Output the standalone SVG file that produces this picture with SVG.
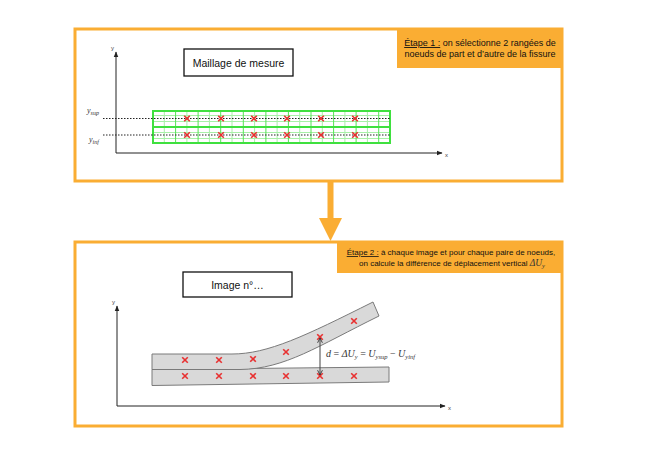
<svg xmlns="http://www.w3.org/2000/svg" width="662" height="466" viewBox="0 0 662 466">
<style>
.frame{fill:none;stroke:#FAAD33;stroke-width:3}
.lbl{fill:#FAAD33}
.t{font-family:"Liberation Sans",Arial,sans-serif;fill:#111}
.box{fill:#fff;stroke:#111;stroke-width:1.3}
.axis{stroke:#222;stroke-width:1;fill:none}
.ax{font-family:"Liberation Sans",Arial,sans-serif;font-size:6px;fill:#444}
.mth{font-family:"Liberation Serif","Times New Roman",serif;font-style:italic;fill:#333}
.g1{stroke:#3FE03F;stroke-width:2;fill:none}
.g2{stroke:#55E455;stroke-width:1}
.g3{stroke:#A8F0A8;stroke-width:1}
.dot{stroke:#222;stroke-width:1;stroke-dasharray:1.5 1.5}
.x{stroke:#E83030;stroke-width:1.6}
.strip{fill:#D9D9D9;stroke:#7a7a7a;stroke-width:1}
</style>
<defs>
<marker id="ah" viewBox="0 0 10 10" refX="9" refY="5" markerWidth="6" markerHeight="6" orient="auto-start-reverse" markerUnits="userSpaceOnUse">
<path d="M0,1 L10,5 L0,9 Z" fill="#222"/>
</marker>
<marker id="dh" viewBox="0 0 10 10" refX="9" refY="5" markerWidth="6" markerHeight="6" orient="auto-start-reverse" markerUnits="userSpaceOnUse">
<path d="M1,1 L9,5 L1,9" fill="none" stroke="#333" stroke-width="1.5"/>
</marker>
<g id="cross"><line class="x" x1="-2.8" y1="-2.8" x2="2.8" y2="2.8"/><line class="x" x1="-2.8" y1="2.8" x2="2.8" y2="-2.8"/></g>
</defs>
<rect width="662" height="466" fill="#fff"/>

<g id="panel1">
<rect class="frame" x="75" y="29" width="487" height="152"/>
<g id="label1">
<rect class="lbl" x="397" y="29" width="165" height="39"/>
<text class="t" x="480" y="46" font-size="9" text-anchor="middle"><tspan text-decoration="underline">Étape 1 :</tspan> on sélectionne 2 rangées de</text>
<text class="t" x="480" y="57" font-size="9" text-anchor="middle">noeuds de part et d’autre de la fissure</text>
</g>
<g id="title1">
<rect class="box" x="184" y="49" width="109" height="27"/>
<text class="t" x="238.5" y="66.5" font-size="10.5" text-anchor="middle">Maillage de mesure</text>
</g>
<g id="axes1">
<line class="axis" x1="116" y1="153" x2="116" y2="52" marker-end="url(#ah)"/>
<line class="axis" x1="116" y1="153" x2="442" y2="153" marker-end="url(#ah)"/>
<text class="ax" x="111" y="50">y</text>
<text class="ax" x="445" y="157">x</text>
</g>
<g id="mesh">
<line class="g3" x1="153" y1="115.5" x2="390" y2="115.5"/>
<line class="g3" x1="153" y1="121.5" x2="390" y2="121.5"/>
<line class="g3" x1="153" y1="132.5" x2="390" y2="132.5"/>
<line class="g3" x1="153" y1="138.5" x2="390" y2="138.5"/>
<line class="g3" x1="164.3" y1="111" x2="164.3" y2="143"/>
<line class="g2" x1="175.6" y1="111" x2="175.6" y2="143"/>
<line class="g3" x1="186.9" y1="111" x2="186.9" y2="143"/>
<line class="g2" x1="198.1" y1="111" x2="198.1" y2="143"/>
<line class="g3" x1="209.4" y1="111" x2="209.4" y2="143"/>
<line class="g2" x1="220.7" y1="111" x2="220.7" y2="143"/>
<line class="g3" x1="232" y1="111" x2="232" y2="143"/>
<line class="g2" x1="243.3" y1="111" x2="243.3" y2="143"/>
<line class="g3" x1="254.6" y1="111" x2="254.6" y2="143"/>
<line class="g2" x1="265.9" y1="111" x2="265.9" y2="143"/>
<line class="g3" x1="277.1" y1="111" x2="277.1" y2="143"/>
<line class="g2" x1="288.4" y1="111" x2="288.4" y2="143"/>
<line class="g3" x1="299.7" y1="111" x2="299.7" y2="143"/>
<line class="g2" x1="311" y1="111" x2="311" y2="143"/>
<line class="g3" x1="322.3" y1="111" x2="322.3" y2="143"/>
<line class="g2" x1="333.6" y1="111" x2="333.6" y2="143"/>
<line class="g3" x1="344.9" y1="111" x2="344.9" y2="143"/>
<line class="g2" x1="356.1" y1="111" x2="356.1" y2="143"/>
<line class="g3" x1="367.4" y1="111" x2="367.4" y2="143"/>
<line class="g2" x1="378.7" y1="111" x2="378.7" y2="143"/>
<rect class="g1" x="153" y="111" width="237" height="32"/>
<line class="g1" x1="153" y1="127" x2="390" y2="127"/>
</g>
<g id="rows">
<line class="dot" x1="103" y1="118.5" x2="390" y2="118.5"/>
<line class="dot" x1="103" y1="135" x2="390" y2="135"/>
<text class="mth" x="87" y="113" font-size="8">y<tspan font-size="6" dy="1.5">sup</tspan></text>
<text class="mth" x="89" y="142" font-size="8">y<tspan font-size="6" dy="1.5">inf</tspan></text>
</g>
<g id="nodes1">
<use href="#cross" x="187" y="118.5"/><use href="#cross" x="221" y="118.5"/><use href="#cross" x="254" y="118.5"/><use href="#cross" x="287" y="118.5"/><use href="#cross" x="321" y="118.5"/><use href="#cross" x="355" y="118.5"/>
<use href="#cross" x="187" y="135"/><use href="#cross" x="221" y="135"/><use href="#cross" x="254" y="135"/><use href="#cross" x="287" y="135"/><use href="#cross" x="321" y="135"/><use href="#cross" x="355" y="135"/>
</g>
</g>

<g id="connectors">
<rect x="327.5" y="180" width="6" height="39" fill="#FAAD33"/>
<polygon points="319,218 342,218 330.5,241" fill="#FAAD33"/>
</g>

<g id="panel2">
<rect class="frame" x="75" y="242" width="487" height="184"/>
<g id="label2">
<rect class="lbl" x="337" y="242" width="225" height="31"/>
<text class="t" x="451" y="255" font-size="8" text-anchor="middle"><tspan text-decoration="underline">Étape 2 :</tspan> à chaque image et pour chaque paire de noeuds,</text>
<text class="t" x="452" y="266" font-size="8" text-anchor="middle">on calcule la différence de déplacement vertical <tspan class="mth" font-size="9.5">ΔU</tspan><tspan class="mth" font-size="6.5" dy="1.5">y</tspan></text>
</g>
<g id="title2">
<rect class="box" x="183" y="272" width="109" height="25"/>
<text class="t" x="237.5" y="288.5" font-size="10.5" text-anchor="middle">Image n°…</text>
</g>
<g id="axes2">
<line class="axis" x1="117" y1="406" x2="117" y2="306" marker-end="url(#ah)"/>
<line class="axis" x1="117" y1="406" x2="445" y2="406" marker-end="url(#ah)"/>
<text class="ax" x="112" y="304">y</text>
<text class="ax" x="448" y="410">x</text>
</g>
<g id="specimen">
<polygon class="strip" points="152,369.5 389,367 389,382 152,385.5"/>
<path class="strip" d="M152,354 L232,354 C268,354 305,336 373,302 L379,316 C318,346 285,369 240,369.5 L152,369.5 Z"/>
</g>
<g id="nodes2">
<use href="#cross" x="185" y="360"/><use href="#cross" x="219" y="360"/><use href="#cross" x="253" y="359"/><use href="#cross" x="286" y="352"/><use href="#cross" x="320" y="337"/><use href="#cross" x="354" y="321"/>
<use href="#cross" x="185" y="376"/><use href="#cross" x="219" y="376"/><use href="#cross" x="253" y="376"/><use href="#cross" x="286" y="376"/><use href="#cross" x="320" y="376"/><use href="#cross" x="354" y="376"/>
</g>
<g id="measure">
<line x1="320" y1="338" x2="320" y2="375" stroke="#444" stroke-width="1" marker-start="url(#dh)" marker-end="url(#dh)"/>
<text class="mth" x="326" y="357" font-size="10">d <tspan font-style="normal">=</tspan> ΔU<tspan font-size="6.5" dy="2">y</tspan><tspan dy="-2"> <tspan font-style="normal">=</tspan> U</tspan><tspan font-size="6.5" dy="2">ysup</tspan><tspan dy="-2"> <tspan font-style="normal">−</tspan> U</tspan><tspan font-size="6.5" dy="2">yinf</tspan></text>
</g>
</g>
</svg>
